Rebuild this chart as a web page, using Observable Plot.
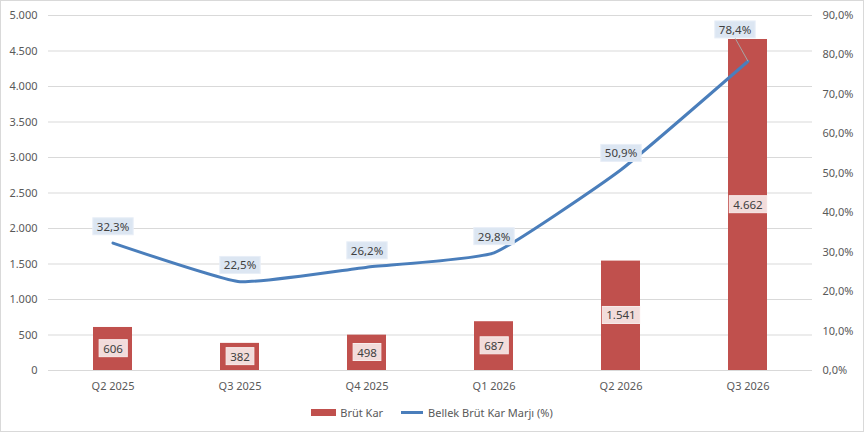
<!DOCTYPE html>
<html>
<head>
<meta charset="utf-8">
<script src="https://cdn.jsdelivr.net/npm/d3@7"></script>
<script src="https://cdn.jsdelivr.net/npm/@observablehq/plot@0.6"></script>
<style>
  html, body { margin: 0; padding: 0; background: #fff; }
  #chart { position: relative; width: 864px; height: 432px; box-sizing: border-box; border: 1px solid #d9d9d9; overflow: hidden; font-family: "Noto Sans", sans-serif; }
  #legend { position: absolute; left: 0; width: 100%; top: 403px; height: 16px; display: flex; justify-content: center; align-items: center; font-size: 11px; color: #595959; }
  .item { display: flex; align-items: center; margin: 0 9px; }
  .sw-bar { width: 25px; height: 7px; background: #c0504d; margin-right: 4px; }
  .sw-line { width: 22px; height: 3px; background: #4a7ebb; margin-right: 5px; }
</style>
</head>
<body>
<div id="chart"></div>
<script>
const categories = ["Q2 2025", "Q3 2025", "Q4 2025", "Q1 2026", "Q2 2026", "Q3 2026"];
const brutKar = [606, 382, 498, 687, 1541, 4662];
const marj = [32.3, 22.5, 26.2, 29.8, 50.9, 78.4];
const leftTicks = [0, 500, 1000, 1500, 2000, 2500, 3000, 3500, 4000, 4500, 5000];
const rightTicks = [0, 10, 20, 30, 40, 50, 60, 70, 80, 90];
const seriesNames = ["Brüt Kar", "Bellek Brüt Kar Marjı (%)"];

const locale = d3.formatLocale({decimal: ",", thousands: ".", grouping: [3], currency: ["", ""]});
const fmtInt = locale.format(",");
const fmtPct = v => locale.format(".1f")(v) + "%";
const leftMax = 5000, rightMax = 90;
const k = leftMax / rightMax;

const rows = categories.map((q, i) => ({q, kar: brutKar[i], marj: marj[i], last: i === categories.length - 1}));

const font = "Noto Sans, sans-serif";
const plot = Plot.plot({
  width: 862,
  height: 398,
  marginLeft: 47,
  marginRight: 51,
  marginTop: 14,
  marginBottom: 29,
  style: {fontFamily: font, fontSize: "11px", color: "#595959", background: "#fff"},
  x: {domain: categories, paddingInner: 0.69, paddingOuter: 0.345, label: null},
  y: {domain: [0, leftMax], label: null},
  marks: [
    Plot.gridY(leftTicks, {stroke: "#d9d9d9", strokeOpacity: 1, strokeWidth: 1}),
    Plot.axisY(leftTicks, {tickSize: 0, tickPadding: 11, tickFormat: fmtInt, label: null, fill: "#595959"}),
    Plot.axisY(rightTicks.map(v => v * k), {anchor: "right", tickSize: 0, tickPadding: 10, textAnchor: "start", tickFormat: d => fmtPct(d / k), label: null, fill: "#595959"}),
    Plot.axisX({tickSize: 0, tickPadding: 12, label: null, fill: "#595959"}),
    Plot.barY(rows, {x: "q", y: "kar", fill: "#c0504d"}),
    Plot.line(rows, {x: "q", y: d => d.marj * k, stroke: "#4a7ebb", strokeWidth: 3, curve: "cardinal", tension: 0.6}),
    Plot.text(rows, {x: "q", y: d => d.kar / 2, text: d => fmtInt(d.kar), fill: "#404040", fontSize: 11.5, className: "barlbl"}),
    Plot.text(rows.filter(d => !d.last), {x: "q", y: d => d.marj * k, dy: -16, text: d => fmtPct(d.marj), fill: "#404040", fontSize: 11.5, className: "linelbl"}),
    Plot.text(rows.filter(d => d.last), {x: "q", y: d => d.marj * k, dx: -13, dy: -31, text: d => fmtPct(d.marj), fill: "#404040", fontSize: 11.5, className: "linelbl lastlbl"})
  ]
});

const chart = document.getElementById("chart");
chart.appendChild(plot);

function boxes(selector, fill, stroke) {
  plot.querySelectorAll(selector + " text").forEach(t => {
    const b = t.getBBox();
    const r = document.createElementNS("http://www.w3.org/2000/svg", "rect");
    r.setAttribute("x", b.x - 4);
    r.setAttribute("y", b.y - 1);
    r.setAttribute("width", b.width + 8);
    r.setAttribute("height", b.height + 2);
    r.setAttribute("fill", fill);
    r.setAttribute("stroke", stroke);
    r.setAttribute("stroke-width", 1);
    if (t.getAttribute("transform")) r.setAttribute("transform", t.getAttribute("transform"));
    t.parentNode.insertBefore(r, t);
  });
}
boxes(".barlbl", "#f2dcdb", "#f8eceb");
boxes(".linelbl", "#dce6f2", "#e8eef7");

// leader line for the displaced last label
plot.querySelectorAll(".lastlbl text").forEach(t => {
  const b = t.getBBox();
  const l = document.createElementNS("http://www.w3.org/2000/svg", "line");
  l.setAttribute("x1", b.x + b.width / 2);
  l.setAttribute("y1", b.y + b.height + 1);
  l.setAttribute("x2", 13);
  l.setAttribute("y2", 31);
  l.setAttribute("stroke", "#a6a6a6");
  l.setAttribute("stroke-width", 1);
  if (t.getAttribute("transform")) l.setAttribute("transform", t.getAttribute("transform"));
  t.parentNode.insertBefore(l, t.previousSibling);
});

const legend = document.createElement("div");
legend.id = "legend";
legend.innerHTML = `<div class="item"><div class="sw-bar"></div><span>${seriesNames[0]}</span></div>` +
                   `<div class="item"><div class="sw-line"></div><span>${seriesNames[1]}</span></div>`;
chart.appendChild(legend);
</script>
</body>
</html>
